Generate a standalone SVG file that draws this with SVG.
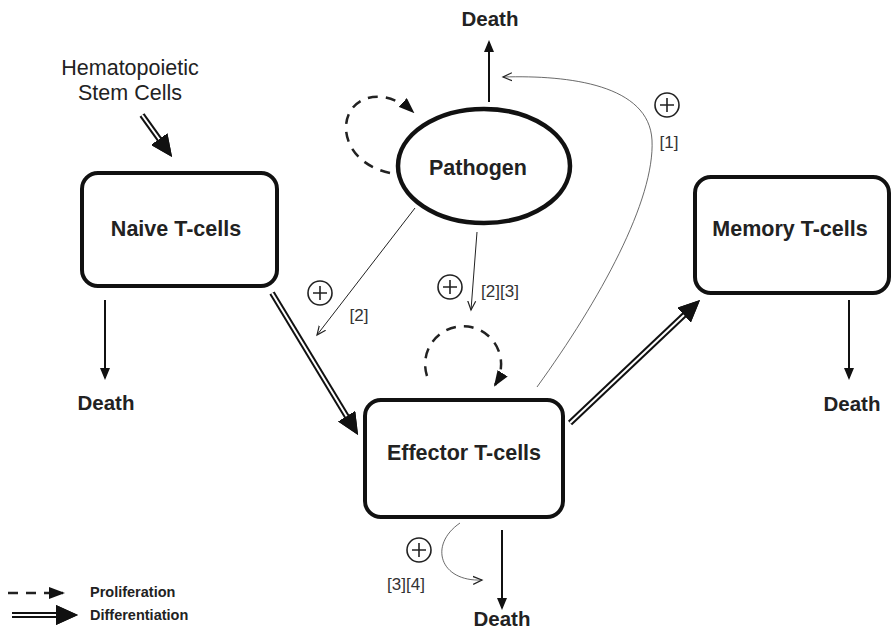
<svg xmlns="http://www.w3.org/2000/svg" width="892" height="630" viewBox="0 0 892 630">
<style>
.box{fill:#fff;stroke:#111;stroke-width:4}
.lbl{font-family:"Liberation Sans",Arial,sans-serif;font-weight:bold;font-size:21.5px;fill:#222;text-anchor:middle}
.dth{font-family:"Liberation Sans",Arial,sans-serif;font-weight:bold;font-size:20.5px;fill:#222;text-anchor:middle}
.ref{font-family:"Liberation Sans",Arial,sans-serif;font-size:17px;fill:#333;text-anchor:middle}
.leg{font-family:"Liberation Sans",Arial,sans-serif;font-weight:bold;font-size:14.5px;fill:#222}
.hsc{font-family:"Liberation Sans",Arial,sans-serif;font-size:21.5px;fill:#222;text-anchor:middle}
.dblo{fill:none;stroke:#111;stroke-width:6}
.dbli{fill:none;stroke:#fff;stroke-width:2}
.solid{fill:none;stroke:#111;stroke-width:2}
.thin{fill:none;stroke:#222;stroke-width:1}
.faint{fill:none;stroke:#444;stroke-width:0.8}
.dash{fill:none;stroke:#222;stroke-width:2.5;stroke-dasharray:10 8}
.plus circle{fill:#fff;stroke:#222;stroke-width:1.6}
.plus path{stroke:#222;stroke-width:1.6}
</style>
<defs>
<marker id="mDbl" markerUnits="userSpaceOnUse" markerWidth="22" markerHeight="20" refX="14" refY="10" orient="auto"><path d="M0,0 L22,10 L0,20 z" fill="#111"/></marker>
<marker id="mSolid" markerUnits="userSpaceOnUse" markerWidth="12" markerHeight="10" refX="10" refY="5" orient="auto"><path d="M0,0 L12,5 L0,10 z" fill="#111"/></marker>
<marker id="mOpen" markerUnits="userSpaceOnUse" markerWidth="11" markerHeight="10" refX="9" refY="5" orient="auto"><path d="M0,1 L9,5 L0,9" fill="none" stroke="#222" stroke-width="1.2"/></marker>
<marker id="mDash" markerUnits="userSpaceOnUse" markerWidth="16" markerHeight="12" refX="14" refY="6" orient="auto"><path d="M0,0 L16,6 L0,12 z" fill="#111"/></marker>
</defs>

<g id="connectors">
  <path class="dblo" d="M142,115 L167.4,150.5" marker-end="url(#mDbl)"/>
  <path class="dbli" d="M142,115 L167.4,150.5" marker-end="url(#mDbl)"/>
  <path class="dblo" d="M272,293 L353.9,428.2" marker-end="url(#mDbl)"/>
  <path class="dbli" d="M272,293 L353.9,428.2" marker-end="url(#mDbl)"/>
  <path class="dblo" d="M570,423 L694.2,305.5" marker-end="url(#mDbl)"/>
  <path class="dbli" d="M570,423 L694.2,305.5" marker-end="url(#mDbl)"/>
  <path class="solid" d="M489,102 L489,42" marker-end="url(#mSolid)"/>
  <path class="solid" d="M105,300 L105,378" marker-end="url(#mSolid)"/>
  <path class="solid" d="M849,300 L849,378" marker-end="url(#mSolid)"/>
  <path class="solid" d="M502,530 L502,608" marker-end="url(#mSolid)"/>
  <path class="thin" d="M415,208 L317,335" marker-end="url(#mOpen)"/>
  <path class="thin" d="M477,232 L471,310" marker-end="url(#mOpen)"/>
  <path class="faint" d="M537,387 C600,300 655,200 652,140 C649,85 570,75 503,77" marker-end="url(#mOpen)"/>
  <path class="faint" d="M460,523 C428,545 440,582 482,580" marker-end="url(#mOpen)"/>
  <path class="dash" d="M390,173 C330,160 335,92 383,97 Q400,100 413,112" marker-end="url(#mDash)"/>
  <path class="dash" d="M427,376 A38,38 0 1 1 495,385" marker-end="url(#mDash)"/>
</g>

<g id="hsc"><text class="hsc" x="130" y="75">Hematopoietic</text><text class="hsc" x="130" y="100">Stem Cells</text></g>

<g id="naive"><rect class="box" x="82" y="173" width="195" height="113" rx="16"/><text class="lbl" x="176" y="236">Naive T-cells</text></g>
<g id="pathogen"><ellipse cx="484" cy="166" rx="86" ry="57" fill="#fff" stroke="#111" stroke-width="4.5"/><text class="lbl" x="478" y="175">Pathogen</text></g>
<g id="effector"><rect class="box" x="365" y="400" width="198" height="117" rx="16"/><text class="lbl" x="464" y="460">Effector T-cells</text></g>
<g id="memory"><rect class="box" x="695" y="177" width="194" height="116" rx="16"/><text class="lbl" x="790" y="236">Memory T-cells</text></g>

<g id="deaths">
  <text class="dth" x="490" y="26">Death</text>
  <text class="dth" x="106" y="410">Death</text>
  <text class="dth" x="852" y="411">Death</text>
  <text class="dth" x="502" y="626">Death</text>
</g>

<g id="plus-signs" class="plus">
  <g transform="translate(667,105)"><circle r="12"/><path d="M-7,0 H7 M0,-7 V7"/></g>
  <g transform="translate(320,293)"><circle r="12"/><path d="M-7,0 H7 M0,-7 V7"/></g>
  <g transform="translate(450,287)"><circle r="12"/><path d="M-7,0 H7 M0,-7 V7"/></g>
  <g transform="translate(419,550)"><circle r="12"/><path d="M-7,0 H7 M0,-7 V7"/></g>
</g>
<g id="refs">
  <text class="ref" x="669" y="148">[1]</text>
  <text class="ref" x="359" y="321">[2]</text>
  <text class="ref" x="500" y="297">[2][3]</text>
  <text class="ref" x="406" y="590">[3][4]</text>
</g>

<g id="legend">
  <path class="dash" d="M8,593 L63,593" marker-end="url(#mDash)"/>
  <path class="dblo" d="M12,615 L70,615" marker-end="url(#mDbl)"/>
  <path class="dbli" d="M12,615 L70,615" marker-end="url(#mDbl)"/>
  <text class="leg" x="90" y="597">Proliferation</text>
  <text class="leg" x="90" y="620">Differentiation</text>
</g>
</svg>
